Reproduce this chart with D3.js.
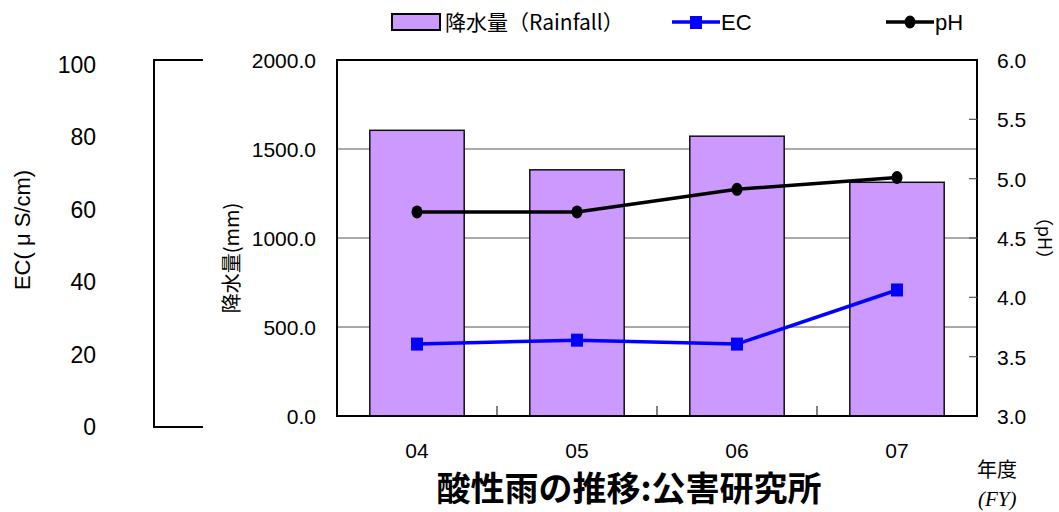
<!DOCTYPE html>
<html>
<head>
<meta charset="utf-8">
<script src="https://cdn.jsdelivr.net/npm/d3@7"></script>
<style>
  body { margin: 0; background: #fff; }
  text { font-family: "Liberation Sans", "Noto Sans CJK JP", sans-serif; }
  .jp { font-family: "Noto Sans CJK JP", sans-serif; }
</style>
</head>
<body>
<div chart></div>
<script>
const years = ["04", "05", "06", "07"];
const rainfall = [1605, 1383, 1572, 1313];
const ecValues = [20.2, 21.3, 20.2, 35.4];
const phValues = [4.72, 4.72, 4.91, 5.01];
const rainTicks = [0, 500, 1000, 1500, 2000];
const phTicks = [3.0, 3.5, 4.0, 4.5, 5.0, 5.5, 6.0];
const ecTicks = [0, 20, 40, 60, 80, 100];

const dims = { width: 1059, height: 512 };
const plot = { left: 337, right: 977, top: 60, bottom: 416 };

const svg = d3.select("[chart]")
  .append("svg")
  .attr("width", dims.width)
  .attr("height", dims.height);

const x = d3.scaleBand()
  .domain(years)
  .range([plot.left, plot.right])
  .paddingInner(0.41)
  .paddingOuter(0.205);

const yRain = d3.scaleLinear().domain([0, 2000]).range([plot.bottom, plot.top]);
const yPh = d3.scaleLinear().domain([3, 6]).range([plot.bottom, plot.top]);
const yEc = d3.scaleLinear().domain([0, 100]).range([plot.bottom, plot.top]);
// the separate EC scale on the far left is drawn a bit taller than the plot
const yEcAxis = d3.scaleLinear().domain([0, 100]).range([427, 65]);

const cx = (d) => x(d) + x.bandwidth() / 2;

// gridlines
svg.append("g")
  .selectAll("line")
  .data(rainTicks.filter((t) => t > 0 && t < 2000))
  .enter()
  .append("line")
  .attr("x1", plot.left)
  .attr("x2", plot.right)
  .attr("y1", (d) => yRain(d))
  .attr("y2", (d) => yRain(d))
  .attr("stroke", "#555")
  .attr("stroke-width", 1.2);

// bars
svg.append("g")
  .selectAll("rect")
  .data(years)
  .enter()
  .append("rect")
  .attr("x", (d) => x(d))
  .attr("y", (d, i) => yRain(rainfall[i]))
  .attr("width", x.bandwidth())
  .attr("height", (d, i) => plot.bottom - yRain(rainfall[i]))
  .attr("fill", "#CC99FF")
  .attr("stroke", "#111")
  .attr("stroke-width", 1.5);

// frame
svg.append("rect")
  .attr("x", plot.left)
  .attr("y", plot.top)
  .attr("width", plot.right - plot.left)
  .attr("height", plot.bottom - plot.top)
  .attr("fill", "none")
  .attr("stroke", "#000")
  .attr("stroke-width", 2);

// category separator ticks on the bottom
svg.append("g")
  .selectAll("line")
  .data(years.slice(1))
  .enter()
  .append("line")
  .attr("x1", (d) => x(d) - (x.step() - x.bandwidth()) / 2)
  .attr("x2", (d) => x(d) - (x.step() - x.bandwidth()) / 2)
  .attr("y1", plot.bottom)
  .attr("y2", plot.bottom - 10)
  .attr("stroke", "#000")
  .attr("stroke-width", 1);

// right pH minor ticks
svg.append("g")
  .selectAll("line")
  .data(phTicks.filter((t) => t > 3 && t < 6))
  .enter()
  .append("line")
  .attr("x1", plot.right - 8)
  .attr("x2", plot.right)
  .attr("y1", (d) => yPh(d))
  .attr("y2", (d) => yPh(d))
  .attr("stroke", "#555")
  .attr("stroke-width", 1.2);

// left rainfall labels
svg.append("g")
  .selectAll("text")
  .data(rainTicks)
  .enter()
  .append("text")
  .attr("x", 316)
  .attr("y", (d) => yRain(d) + 8)
  .attr("text-anchor", "end")
  .attr("font-size", "21px")
  .text((d) => d.toFixed(1));

// right pH labels
svg.append("g")
  .selectAll("text")
  .data(phTicks)
  .enter()
  .append("text")
  .attr("x", 997)
  .attr("y", (d) => yPh(d) + 8)
  .attr("font-size", "21px")
  .text((d) => d.toFixed(1));

// x labels
svg.append("g")
  .selectAll("text")
  .data(years)
  .enter()
  .append("text")
  .attr("x", (d) => cx(d))
  .attr("y", 458)
  .attr("text-anchor", "middle")
  .attr("font-size", "21px")
  .text((d) => d);

// EC axis bracket
const ecTop = yEcAxis(100) - 5;
const ecBottom = yEcAxis(0);
svg.append("path")
  .attr("d", `M203,${ecTop}H154V${ecBottom}H203`)
  .attr("fill", "none")
  .attr("stroke", "#000")
  .attr("stroke-width", 2);

svg.append("g")
  .selectAll("text")
  .data(ecTicks)
  .enter()
  .append("text")
  .attr("x", 96)
  .attr("y", (d) => yEcAxis(d) + 8)
  .attr("text-anchor", "end")
  .attr("font-size", "23px")
  .text((d) => d);

// axis titles
svg.append("text")
  .attr("transform", "translate(30,230) rotate(-90)")
  .attr("text-anchor", "middle")
  .attr("font-size", "22px")
  .text("EC( μ S/cm)");

svg.append("text")
  .attr("class", "jp")
  .attr("transform", "translate(239,258) rotate(-90)")
  .attr("text-anchor", "middle")
  .attr("font-size", "20px")
  .text("降水量(mm)");

svg.append("text")
  .attr("class", "jp")
  .attr("transform", "translate(1038,238) rotate(90)")
  .attr("text-anchor", "middle")
  .attr("font-size", "18px")
  .text("（pH）");

// lines
const line = (scale, values) => d3.line()
  .x((d) => cx(d))
  .y((d, i) => scale(values[i]))(years);

svg.append("path")
  .attr("d", line(yPh, phValues))
  .attr("fill", "none")
  .attr("stroke", "#000")
  .attr("stroke-width", 3.5);

svg.append("g")
  .selectAll("ellipse")
  .data(years)
  .enter()
  .append("ellipse")
  .attr("cx", (d) => cx(d))
  .attr("cy", (d, i) => yPh(phValues[i]))
  .attr("rx", 5.5)
  .attr("ry", 6.5)
  .attr("fill", "#000");

svg.append("path")
  .attr("d", line(yEc, ecValues))
  .attr("fill", "none")
  .attr("stroke", "#0000FF")
  .attr("stroke-width", 3.5);

svg.append("g")
  .selectAll("rect")
  .data(years)
  .enter()
  .append("rect")
  .attr("x", (d) => cx(d) - 6)
  .attr("y", (d, i) => yEc(ecValues[i]) - 6.5)
  .attr("width", 12)
  .attr("height", 13)
  .attr("fill", "#0000FF");

// legend
const legend = svg.append("g");
legend.append("rect")
  .attr("x", 392)
  .attr("y", 14)
  .attr("width", 48)
  .attr("height", 16)
  .attr("fill", "#CC99FF")
  .attr("stroke", "#000")
  .attr("stroke-width", 2);
legend.append("text")
  .attr("class", "jp")
  .attr("x", 445)
  .attr("y", 30)
  .attr("font-size", "21px")
  .text("降水量（Rainfall）");

legend.append("line")
  .attr("x1", 672).attr("x2", 720)
  .attr("y1", 22).attr("y2", 22)
  .attr("stroke", "#0000FF")
  .attr("stroke-width", 3.5);
legend.append("rect")
  .attr("x", 690).attr("y", 16)
  .attr("width", 12).attr("height", 13)
  .attr("fill", "#0000FF");
legend.append("text")
  .attr("x", 721)
  .attr("y", 30)
  .attr("font-size", "22px")
  .text("EC");

legend.append("line")
  .attr("x1", 886).attr("x2", 934)
  .attr("y1", 22).attr("y2", 22)
  .attr("stroke", "#000")
  .attr("stroke-width", 3.5);
legend.append("ellipse")
  .attr("cx", 910).attr("cy", 22)
  .attr("rx", 5.5).attr("ry", 6.5)
  .attr("fill", "#000");
legend.append("text")
  .attr("x", 935)
  .attr("y", 30)
  .attr("font-size", "22px")
  .text("pH");

// title and FY label
svg.append("text")
  .attr("class", "jp")
  .attr("x", 629)
  .attr("y", 501)
  .attr("text-anchor", "middle")
  .attr("font-size", "34px")
  .attr("font-weight", "bold")
  .text("酸性雨の推移:公害研究所");

svg.append("text")
  .attr("class", "jp")
  .attr("x", 977)
  .attr("y", 477)
  .attr("font-size", "20px")
  .text("年度");

svg.append("text")
  .attr("x", 978)
  .attr("y", 506)
  .style("font-family", "'Liberation Serif', serif")
  .style("font-style", "italic")
  .attr("font-size", "21px")
  .text("(FY)");
</script>
</body>
</html>
